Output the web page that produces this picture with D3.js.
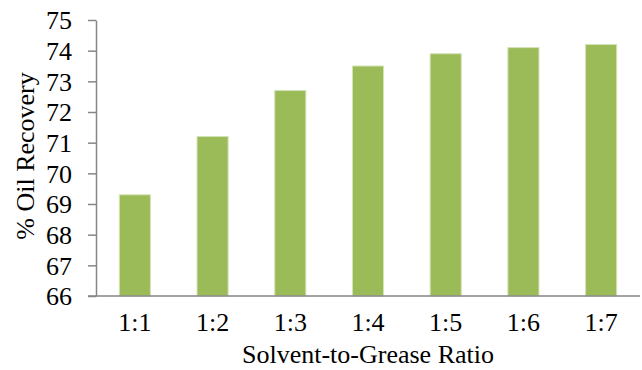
<!DOCTYPE html>
<html><head><meta charset="utf-8">
<script src="https://cdn.jsdelivr.net/npm/d3@7"></script>
<style>body{margin:0;background:#fff}svg{display:block}</style>
</head><body><svg id="c" width="642" height="370"></svg>
<script>
const categories = ["1:1","1:2","1:3","1:4","1:5","1:6","1:7"];
const recovery = [69.3, 71.2, 72.7, 73.5, 73.9, 74.1, 74.2];
const yTicks = [66,67,68,69,70,71,72,73,74,75];
const xTitle = "Solvent-to-Grease Ratio";
const yTitle = "% Oil Recovery";

const FONT = "'Liberation Serif', Tinos, 'DejaVu Serif', serif";
const svg = d3.select("#c");
const mL = 96, mR = 640, mT = 20, mB = 296;
const x = d3.scaleBand().domain(categories).range([mL, mR]).paddingInner(0.6).paddingOuter(0.3);
const y = d3.scaleLinear().domain([66, 75]).range([mB, mT]);

svg.append("g").selectAll("rect").data(recovery).join("rect")
  .attr("x", (d,i) => x(categories[i]))
  .attr("width", x.bandwidth())
  .attr("y", d => y(d))
  .attr("height", d => y(66) - y(d))
  .attr("fill", "#9bbb59")
  .attr("stroke", "#d3e3b6")
  .attr("stroke-width", 1);

const ya = svg.append("g").attr("transform", `translate(${mL},0)`)
  .call(d3.axisLeft(y).tickValues(yTicks).tickSize(8).tickPadding(16).tickSizeOuter(0));
ya.attr("font-family", FONT).attr("font-size", 26);
ya.select(".domain").attr("stroke", "#868686").attr("stroke-width", 1.5);
ya.selectAll(".tick line").attr("stroke", "#868686").attr("stroke-width", 1.5);
ya.selectAll(".tick text").attr("fill", "#000").attr("dy", "0.34em");

const xa = svg.append("g").attr("transform", `translate(0,${mB})`)
  .call(d3.axisBottom(x).tickSize(0).tickPadding(0).tickSizeOuter(0));
xa.attr("font-family", FONT).attr("font-size", 26);
xa.select(".domain").attr("d", `M${mL-8},0H${mR}`).attr("stroke", "#868686").attr("stroke-width", 1.5);
xa.selectAll(".tick text").attr("fill", "#000").attr("dy", null).attr("y", 35);

svg.append("text").attr("x", 368).attr("y", 363).attr("text-anchor", "middle")
  .attr("font-family", FONT).attr("font-size", 26).text(xTitle);
svg.append("text").attr("transform", "translate(34,156) rotate(-90)").attr("text-anchor", "middle")
  .attr("font-family", FONT).attr("font-size", 26).text(yTitle);
</script></body></html>
